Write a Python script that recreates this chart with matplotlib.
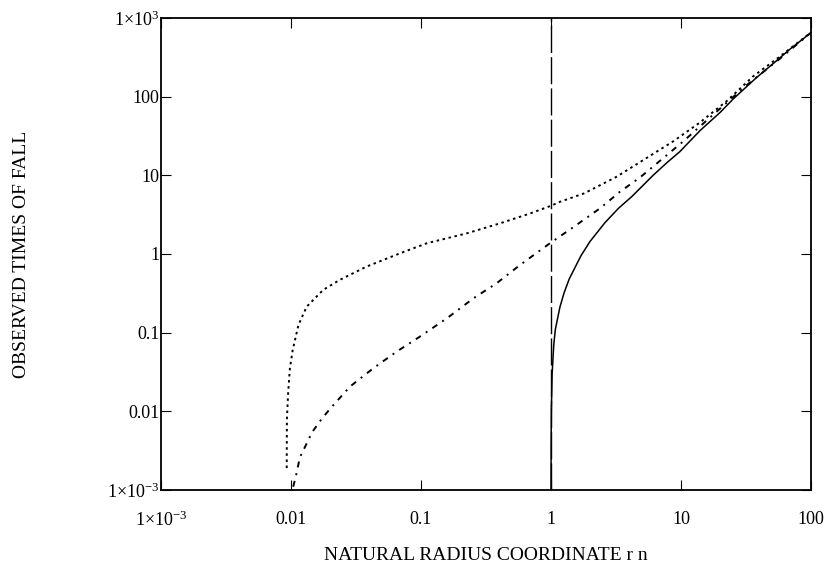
import numpy as np
import matplotlib
matplotlib.use('Agg')
import matplotlib.pyplot as plt
from matplotlib.ticker import FixedLocator, NullLocator

plt.rcParams['font.family'] = ['Liberation Serif', 'DejaVu Serif']
plt.rcParams['mathtext.fontset'] = 'custom'
plt.rcParams['mathtext.rm'] = 'Liberation Serif'
plt.rcParams['mathtext.default'] = 'regular'
plt.rcParams['lines.scale_dashes'] = False

# curve readings (natural radius coordinate, observed time of fall)
solid_r = [1.0, 1.002, 1.006, 1.02, 1.05, 1.08, 1.17, 1.26, 1.38, 1.7, 2.0, 2.6,
           3.3, 4.2, 6.1, 7.8, 9.8, 14, 20, 25.3, 38, 51, 70, 100]
solid_t = [0.001, 0.003, 0.01, 0.03, 0.07, 0.11, 0.21, 0.32, 0.48, 0.95, 1.45, 2.5,
           3.8, 5.4, 10, 14.5, 20, 37, 63, 94, 174, 262, 410, 650]

dotted_r = [0.00927, 0.00928, 0.0093, 0.0095, 0.0098, 0.0103, 0.0114, 0.0132, 0.0177,
            0.0238, 0.038, 0.069, 0.111, 0.225, 0.405, 0.7, 1.0, 1.17, 1.8, 3.2,
            5.4, 8.7, 14, 22.5, 36, 57.8, 100]
dotted_t = [0.0019, 0.004, 0.008, 0.017, 0.035, 0.06, 0.125, 0.214, 0.35,
            0.47, 0.69, 1.02, 1.37, 1.83, 2.45, 3.3, 4.1, 4.6, 5.9, 9.6,
            16.5, 27, 47, 88, 182, 325, 655]

dashdot_r = [0.0104, 0.011, 0.0117, 0.013, 0.0145, 0.0172, 0.02, 0.0284, 0.043,
             0.065, 0.098, 0.158, 0.253, 0.382, 0.578, 1.0, 1.49, 2.38, 3.4,
             4.84, 7.76, 10.4, 15.8, 22.5, 32, 57.8, 100]
dashdot_t = [0.0011, 0.0016, 0.0026, 0.0037, 0.0054, 0.008, 0.0108, 0.0206, 0.0353,
             0.0574, 0.089, 0.152, 0.273, 0.425, 0.725, 1.4, 2.2, 3.8, 6.2,
             9.4, 18, 27, 50, 84, 140, 305, 652]

horizon_r = [1.0]

x_ticks = [1e-3, 1e-2, 1e-1, 1, 10, 100]
x_labels = [r'$1×10^{-3}$', '0.01', '0.1', '1', '10', '100']
y_ticks = [1e-3, 1e-2, 1e-1, 1, 10, 100, 1e3]
y_labels = [r'$1×10^{-3}$', '0.01', '0.1', '1', '10', '100', r'$1×10^{3}$']

fig = plt.figure(figsize=(8.3, 5.71), dpi=100)
ax = fig.add_axes([0.194, 0.1419, 0.7831, 0.8266])

ax.plot(solid_r, solid_t, color='black', lw=1.1, linestyle='-')
ax.plot(dotted_r, dotted_t, color='black', lw=1.4, linestyle=(0, (1.8, 2.6)))
ax.plot(dashdot_r, dashdot_t, color='black', lw=1.4,
        linestyle=(0, (4.3, 4.3, 1.4, 4.3)))
for r in horizon_r:
    ax.axvline(r, color='black', lw=1.0, linestyle=(0, (19.5, 3)))

ax.set_xscale('log')
ax.set_yscale('log')
ax.set_xlim(x_ticks[0], x_ticks[-1])
ax.set_ylim(y_ticks[0], y_ticks[-1])

ax.xaxis.set_major_locator(FixedLocator(x_ticks))
ax.yaxis.set_major_locator(FixedLocator(y_ticks))
ax.xaxis.set_minor_locator(NullLocator())
ax.yaxis.set_minor_locator(NullLocator())
ax.set_xticklabels(x_labels)
ax.set_yticklabels(y_labels)

ax.tick_params(which='major', direction='in', length=7.5, width=0.8,
               top=True, right=True, labelsize=13)
ax.tick_params(axis='x', pad=15)
ax.tick_params(axis='y', pad=1)
for s in ax.spines.values():
    s.set_linewidth(1.3)

ax.set_xlabel('NATURAL RADIUS COORDINATE r n', fontsize=14)
ax.xaxis.set_label_coords(0.5, -0.12)
ax.set_ylabel('OBSERVED TIMES OF FALL', fontsize=14)
ax.yaxis.set_label_coords(-0.201, 0.5)

plt.savefig('out.png', dpi=100)
